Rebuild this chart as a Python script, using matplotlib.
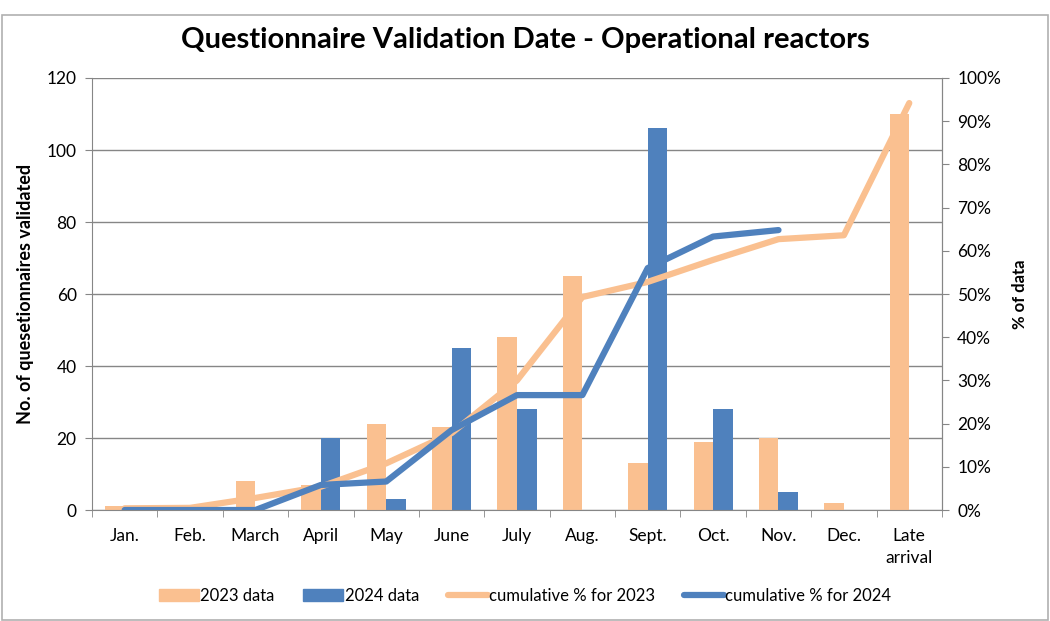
import numpy as np
import matplotlib
matplotlib.use("Agg")
import matplotlib.pyplot as plt
from matplotlib.patches import Patch, Rectangle
from matplotlib.lines import Line2D
from matplotlib.ticker import PercentFormatter

# === 資料 ===
months = ["Jan.", "Feb.", "March", "April", "May", "June", "July", "Aug.",
          "Sept.", "Oct.", "Nov.", "Dec.", "Late\narrival"]
data_2023 = [1, 0, 8, 7, 24, 23, 48, 65, 13, 19, 20, 2, 110]
data_2024 = [0, 0, 0, 20, 3, 45, 28, 0, 106, 28, 5, np.nan, np.nan]
cum_2023 = [0.4, 0.5, 2.8, 5.4, 10.8, 17.8, 30.0, 49.3, 52.8, 57.9, 62.7, 63.6, 94.2]
cum_2024 = [0.0, 0.0, 0.0, 5.8, 6.6, 18.5, 26.6, 26.6, 56.0, 63.3, 64.8]

ORANGE = "#FAC090"
BLUE = "#4F81BD"
GRID = "#868686"

plt.rcParams['font.family'] = ['Lato', 'DejaVu Sans']

fig = plt.figure(figsize=(10.5, 6.21), dpi=100)
ax = fig.add_axes([0.0876, 0.1787, 0.8095, 0.6957])
ax2 = ax.twinx()

x = np.arange(len(months))
w = 0.3

# === 長條圖 ===
ax.bar(x - w / 2, data_2023, width=w, color=ORANGE, zorder=2)
ax.bar(x + w / 2, data_2024, width=w, color=BLUE, zorder=2)

ax.set_xlim(-0.5, len(months) - 0.5)
ax.set_ylim(0, 120)
ax.set_yticks(range(0, 121, 20))
ax.grid(axis="y", color=GRID, linewidth=1.0, zorder=0)
ax.set_axisbelow(True)

ax.set_xticks(x)
ax.set_xticklabels(months, fontsize=12.5, linespacing=1.45)
ax.set_xticks(np.arange(-0.5, len(months) + 0.5, 1), minor=True)
ax.tick_params(axis="x", which="major", length=0, pad=13)
ax.tick_params(axis="x", which="minor", length=5, color=GRID)
ax.tick_params(axis="y", length=5, color=GRID, labelsize=12.5, pad=6)
ax.set_ylabel("No. of quesetionnaires validated", fontsize=13, fontweight="bold", labelpad=9)

for s in ["left", "bottom", "right"]:
    ax.spines[s].set_color(GRID)
ax.spines["top"].set_visible(False)

# === 累積百分比折線 ===
ax2.set_ylim(0, 100)
ax2.set_yticks(range(0, 101, 10))
ax2.yaxis.set_major_formatter(PercentFormatter(decimals=0))
ax2.tick_params(axis="y", length=5, color=GRID, labelsize=12.5, pad=6)
for s in ["left", "bottom", "right", "top"]:
    ax2.spines[s].set_visible(False)
ax2.spines["right"].set_visible(True)
ax2.spines["right"].set_color(GRID)
ax2.set_ylabel("% of data", fontsize=12, fontweight="bold", labelpad=8)

ax2.plot(x, cum_2023, color=ORANGE, linewidth=4.5, solid_capstyle="round",
         solid_joinstyle="round", zorder=3)
ax2.plot(x[:len(cum_2024)], cum_2024, color=BLUE, linewidth=4.5,
         solid_capstyle="round", solid_joinstyle="round", zorder=4)

# === 標題 ===
fig.text(0.5, 0.935, "Questionnaire Validation Date - Operational reactors",
         ha="center", va="center", fontsize=21, fontweight="bold")

# === 圖例 ===
handles = [
    Patch(color=ORANGE, label="2023 data"),
    Patch(color=BLUE, label="2024 data"),
    Line2D([], [], color=ORANGE, linewidth=4.5, solid_capstyle="round", label="cumulative % for 2023"),
    Line2D([], [], color=BLUE, linewidth=4.5, solid_capstyle="round", label="cumulative % for 2024"),
]
fig.legend(handles=handles, loc="center", bbox_to_anchor=(0.5, 0.04), ncol=4,
           frameon=False, fontsize=12, handlelength=2.4, handletextpad=0.1,
           columnspacing=1.7)

# === 外框 ===
fig.patches.append(Rectangle((0.002, 0.002), 0.996, 0.974, transform=fig.transFigure,
                             fill=False, edgecolor="#B0B0B0", linewidth=1.2))

fig.savefig("out.png", dpi=100)
